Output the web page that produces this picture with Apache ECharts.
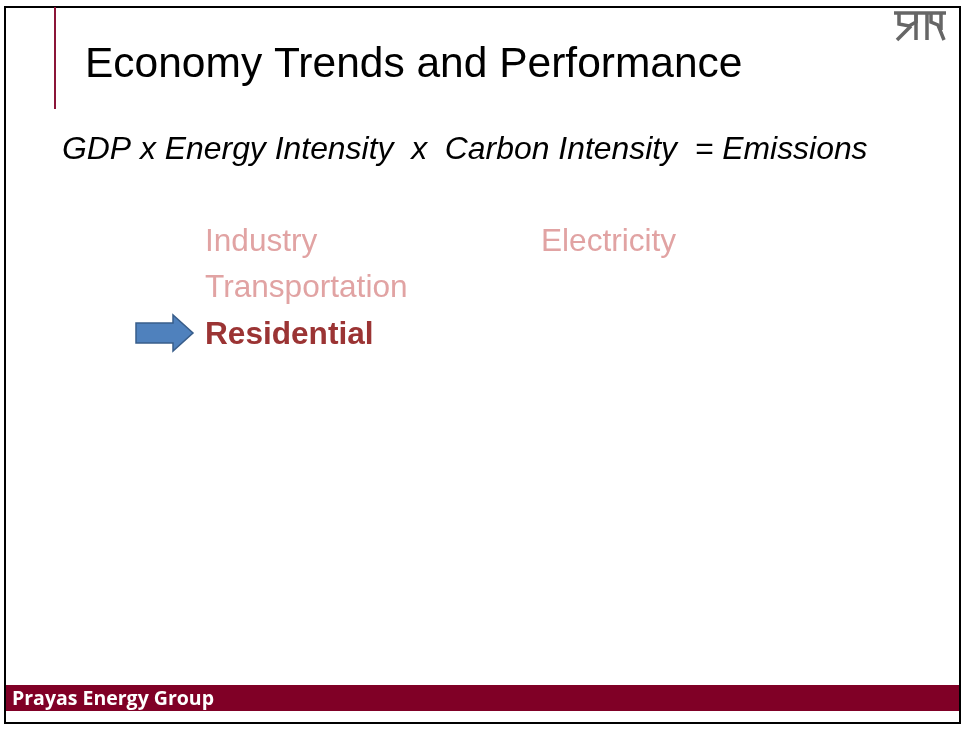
<!DOCTYPE html>
<html>
<head>
<meta charset="utf-8">
<script src="https://cdn.jsdelivr.net/npm/echarts@6/dist/echarts.min.js"></script>
<style>
  html, body { margin: 0; padding: 0; background: #fff; }
  #main { width: 965px; height: 730px; }
</style>
</head>
<body>
<div id="main"></div>
<script>
// slide text
var title = 'Economy Trends and Performance'
var equation = 'GDP x Energy Intensity  x  Carbon Intensity  = Emissions'
var sectorsLeft = ['Industry', 'Transportation', 'Residential']
var sectorsRight = ['Electricity']
var activeSector = 'Residential'
var footer = 'Prayas Energy Group'

var chart = echarts.init(document.getElementById('main'))
var font = '"Liberation Sans", Arial, sans-serif'
var elements = []

// frame
elements.push({ type: 'rect', shape: { x: 5, y: 7, width: 955, height: 716 },
  style: { fill: 'none', stroke: '#000', lineWidth: 2 } })
// red title rule
elements.push({ type: 'line', shape: { x1: 55, y1: 7, x2: 55, y2: 109 },
  style: { stroke: '#8B1538', lineWidth: 2 } })
// footer bar
elements.push({ type: 'rect', shape: { x: 6, y: 685, width: 953, height: 26 },
  style: { fill: '#800026' } })
elements.push({ type: 'text', x: 12, y: 699,
  style: { text: footer, fill: '#fff', font: 'bold 19.5px "Open Sans", sans-serif', verticalAlign: 'middle' } })

// title + equation
elements.push({ type: 'text', x: 85, y: 65,
  style: { text: title, fill: '#000', font: '42.5px ' + font, verticalAlign: 'middle' } })
elements.push({ type: 'text', x: 62, y: 150,
  style: { text: equation, fill: '#000', font: 'italic 31.9px ' + font, verticalAlign: 'middle' } })

// sector lists
sectorsLeft.forEach(function (s, i) {
  var on = s === activeSector
  elements.push({ type: 'text', x: 205, y: 242 + i * 46.5,
    style: { text: s, fill: on ? '#9B3434' : '#E1A3A3',
      font: (on ? 'bold ' : '') + '31.6px ' + font, verticalAlign: 'middle' } })
})
sectorsRight.forEach(function (s, i) {
  elements.push({ type: 'text', x: 541, y: 242 + i * 46.5,
    style: { text: s, fill: '#E1A3A3', font: '31.6px ' + font, verticalAlign: 'middle' } })
})

// arrow pointer
elements.push({ type: 'polygon',
  shape: { points: [[136, 323], [173, 323], [173, 315], [193, 333], [173, 351], [173, 343], [136, 343]] },
  style: { fill: '#4F81BD', stroke: '#385D8A', lineWidth: 1.5 } })

// logo (rough strokes)
var logo = { stroke: '#666', lineWidth: 3.5, fill: 'none' }
elements.push({ type: 'line', shape: { x1: 894, y1: 13, x2: 946, y2: 13 }, style: logo })
elements.push({ type: 'polyline', shape: { points: [[899, 13], [899, 24], [909, 26], [916, 22], [916, 13]] }, style: logo })
elements.push({ type: 'line', shape: { x1: 916, y1: 13, x2: 916, y2: 40 }, style: logo })
elements.push({ type: 'line', shape: { x1: 911, y1: 26, x2: 897, y2: 40 }, style: logo })
elements.push({ type: 'line', shape: { x1: 927, y1: 13, x2: 927, y2: 40 }, style: logo })
elements.push({ type: 'polyline', shape: { points: [[931, 13], [931, 22], [938, 25], [944, 40]] }, style: logo })
elements.push({ type: 'line', shape: { x1: 941, y1: 13, x2: 941, y2: 30 }, style: logo })

chart.setOption({
  animation: false,
  backgroundColor: '#fff',
  graphic: { elements: elements }
})
</script>
</body>
</html>
